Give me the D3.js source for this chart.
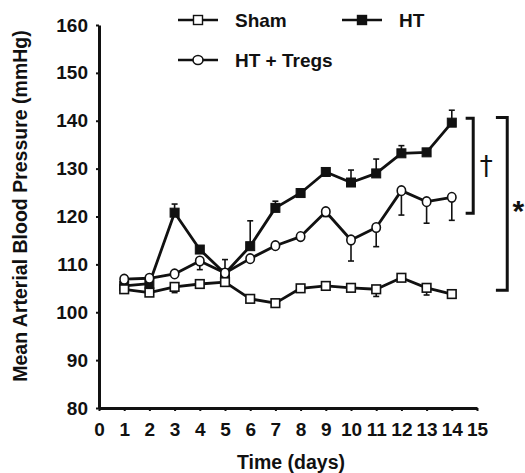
<!DOCTYPE html>
<html>
<head>
<meta charset="utf-8">
<script src="https://cdn.jsdelivr.net/npm/d3@7"></script>
<style>
  html, body { margin: 0; padding: 0; background: #fff; }
  svg { display: block; }
  text { font-family: "Liberation Sans", Arial, sans-serif; font-weight: bold; fill: #111; }
</style>
</head>
<body>
<svg id="chart" width="525" height="473"></svg>
<script>
// ---------- data ----------
const days = [1, 2, 3, 4, 5, 6, 7, 8, 9, 10, 11, 12, 13, 14];
const xTicks = [0, 1, 2, 3, 4, 5, 6, 7, 8, 9, 10, 11, 12, 13, 14, 15];
const yTicks = [80, 90, 100, 110, 120, 130, 140, 150, 160];

const shamValues = [104.8, 104.1, 105.3, 105.9, 106.3, 102.8, 101.9, 105.0, 105.5, 105.1, 104.8, 107.2, 105.1, 103.8];
// signed SEM: positive drawn upward, negative drawn downward, 0 = hidden
const shamErr    = [0, 0, -1.2, 0, 0, 0, 0, 0, 0, 0, -1.5, 0, -1.5, 0];

const htValues   = [105.5, 106.0, 120.8, 113.1, 108.1, 113.8, 121.8, 124.9, 129.3, 127.1, 129.0, 133.2, 133.4, 139.6];
const htErr      = [0, 0, 1.8, 0, 0, 5.3, 1.4, 0.5, 0, 2.6, 3.0, 1.6, 0, 2.6];

const tregValues = [106.9, 107.1, 108.0, 110.7, 108.2, 111.2, 113.9, 115.8, 121.0, 115.1, 117.7, 125.4, 123.1, 124.0];
const tregErr    = [0, 0, 0, -1.8, 2.8, 0, 0, 0, -1.0, -4.4, -4.0, -5.1, -4.5, -4.8];

const seriesNames = ["Sham", "HT", "HT + Tregs"];
const xTitle = "Time (days)";
const yTitle = "Mean Arterial Blood Pressure (mmHg)";
// significance brackets: [from value, to value, label]
const brackets = [
  { top: 140.5, bottom: 120.7, label: "\u2020" },
  { top: 140.7, bottom: 104.6, label: "*" }
];

// ---------- chart ----------
const svg = d3.select("#chart");
const x = d3.scaleLinear().domain([0, 15]).range([99, 477]);
const y = d3.scaleLinear().domain([80, 160]).range([408, 25]);

// axes
const xAxis = d3.axisBottom(x).tickValues(xTicks).tickFormat(d3.format("d")).tickSizeInner(3).tickSizeOuter(0).tickPadding(12);
const yAxis = d3.axisLeft(y).tickValues(yTicks).tickFormat(d3.format("d")).tickSizeInner(3).tickSizeOuter(0).tickPadding(8);

const gx = svg.append("g").attr("transform", `translate(0,${y(80)})`).call(xAxis);
const gy = svg.append("g").attr("transform", `translate(${x(0)},0)`).call(yAxis);
[gx, gy].forEach(g => {
  g.select(".domain").attr("stroke", "#111").attr("stroke-width", 3);
  g.selectAll(".tick line").attr("stroke", "#111").attr("stroke-width", 2);
  g.selectAll(".tick text").style("font-size", "19px").style("font-family", "Liberation Sans, Arial, sans-serif").style("font-weight", "bold").attr("fill", "#111");
});

// axis titles
svg.append("text").attr("x", 291).attr("y", 469).attr("text-anchor", "middle").style("font-size", "19.5px").text(xTitle);
svg.append("text").attr("transform", "translate(27,206) rotate(-90)").attr("text-anchor", "middle").style("font-size", "19.5px").text(yTitle);

const line = d3.line().x((d, i) => x(days[i])).y(d => y(d));

function drawErr(vals, errs) {
  const g = svg.append("g").attr("stroke", "#111").attr("stroke-width", 1.6);
  vals.forEach((v, i) => {
    const e = errs[i];
    if (!e) return;
    const cx = x(days[i]);
    g.append("line").attr("x1", cx).attr("x2", cx).attr("y1", y(v)).attr("y2", y(v + e));
    g.append("line").attr("x1", cx - 3).attr("x2", cx + 3).attr("y1", y(v + e)).attr("y2", y(v + e));
  });
}

function drawLine(vals) {
  svg.append("path").datum(vals).attr("d", line).attr("fill", "none").attr("stroke", "#111").attr("stroke-width", 2.8).attr("stroke-linejoin", "round");
}

// HT
drawErr(htValues, htErr);
drawLine(htValues);
svg.append("g").selectAll("rect").data(htValues).join("rect")
  .attr("x", (d, i) => x(days[i]) - 4.5).attr("y", d => y(d) - 4.5)
  .attr("width", 9).attr("height", 9).attr("fill", "#111").attr("stroke", "#111").attr("stroke-width", 1);

// HT + Tregs
drawErr(tregValues, tregErr);
drawLine(tregValues);
svg.append("g").selectAll("ellipse").data(tregValues).join("ellipse")
  .attr("cx", (d, i) => x(days[i])).attr("cy", d => y(d))
  .attr("rx", 4.2).attr("ry", 4.8).attr("fill", "#fff").attr("stroke", "#111").attr("stroke-width", 1.6);

// Sham
drawErr(shamValues, shamErr);
drawLine(shamValues);
svg.append("g").selectAll("rect").data(shamValues).join("rect")
  .attr("x", (d, i) => x(days[i]) - 4.3).attr("y", d => y(d) - 4.3)
  .attr("width", 8.6).attr("height", 8.6).attr("fill", "#fff").attr("stroke", "#111").attr("stroke-width", 1.6);

// brackets
const bx = [[14.55, 14.85], [15.75, 16.2]];
brackets.forEach((b, k) => {
  const x0 = x(bx[k][0]), x1 = x(bx[k][1]);
  svg.append("path")
    .attr("d", `M${x0},${y(b.top)}H${x1}V${y(b.bottom)}H${x0}`)
    .attr("fill", "none").attr("stroke", "#111").attr("stroke-width", 3);
  const ymid = (y(b.top) + y(b.bottom)) / 2;
  svg.append("text").attr("x", x1 + (k === 0 ? 13 : 11)).attr("y", ymid + (k === 0 ? 9 : 17))
    .attr("text-anchor", "middle").style("font-size", k === 0 ? "26px" : "30px")
    .style("font-weight", k === 0 ? "normal" : "bold")
    .style("font-family", k === 0 ? "DejaVu Sans, sans-serif" : "Liberation Sans, Arial, sans-serif")
    .text(b.label);
});

// legend
const legend = [
  { name: seriesNames[0], lx: 178, ly: 20, type: "openSquare" },
  { name: seriesNames[1], lx: 342, ly: 20, type: "filledSquare" },
  { name: seriesNames[2], lx: 178, ly: 60, type: "circle" }
];
legend.forEach(L => {
  const g = svg.append("g").attr("transform", `translate(${L.lx},${L.ly})`);
  g.append("line").attr("x1", 0).attr("x2", 40).attr("y1", 0).attr("y2", 0).attr("stroke", "#111").attr("stroke-width", 2.5);
  if (L.type === "circle") {
    g.append("ellipse").attr("cx", 20).attr("cy", 0).attr("rx", 5).attr("ry", 4.5).attr("fill", "#fff").attr("stroke", "#111").attr("stroke-width", 1.6);
  } else {
    g.append("rect").attr("x", 15.5).attr("y", -4.5).attr("width", 9).attr("height", 9)
      .attr("fill", L.type === "filledSquare" ? "#111" : "#fff").attr("stroke", "#111").attr("stroke-width", 1.4);
  }
  g.append("text").attr("x", 57).attr("y", 7).style("font-size", "19px").text(L.name);
});
</script>
</body>
</html>
